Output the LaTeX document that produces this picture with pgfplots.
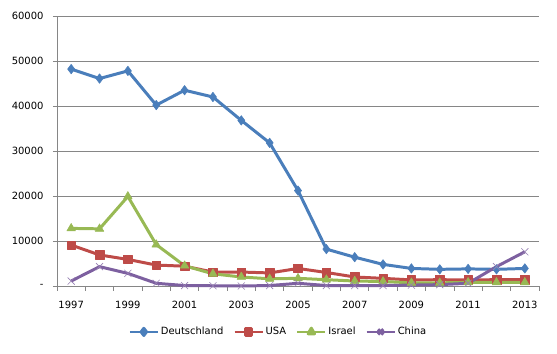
\documentclass[border=0pt]{standalone}
\usepackage{pgfplots}
\pgfplotsset{compat=1.18}
\usepackage{fontspec}
\setmainfont{DejaVu Sans}
\definecolor{cBlue}{HTML}{4A7EBB}
\definecolor{cRed}{HTML}{BE4B48}
\definecolor{cGreen}{HTML}{98B954}
\definecolor{cPurple}{HTML}{7D60A0}
\definecolor{cGrid}{HTML}{868686}
\begin{document}
\begin{tikzpicture}[x=1bp,y=1bp]
\begin{axis}[
  scale only axis,
  width=482bp, height=270bp,
  xmin=-0.5, xmax=16.5,
  ymin=0, ymax=60000,
  axis x line=bottom, axis y line=left,
  axis line style={cGrid, line width=0.8pt, -},
  xtick={0,2,...,16},
  xticklabels={1997,1999,2001,2003,2005,2007,2009,2011,2013},
  major x tick style={draw=none},
  minor xtick={-0.5,0.5,...,16.5},
  minor x tick style={cGrid, line width=0.8pt},
  minor tick length=5bp,
  ytick={0,10000,20000,30000,40000,50000,60000},
  yticklabels={-,10000,20000,30000,40000,50000,60000},
  y tick style={cGrid, line width=0.8pt},
  major tick length=4bp,
  tick align=outside,
  ymajorgrids,
  grid style={cGrid, line width=0.8pt},
  tick label style={font=\fontsize{10}{12}\selectfont},
  yticklabel style={xshift=-6bp},
  xticklabel style={yshift=-8bp},
  scaled y ticks=false,
  /pgf/number format/assume math mode=true,
  clip=false,
  legend columns=4,
  legend style={at={(0.4595,-0.17)}, anchor=center, draw=none, fill=none,
    font=\fontsize{10}{12}\selectfont,
    /tikz/every even column/.append style={column sep=8bp}},
  legend image code/.code={
    \draw[#1, mark=none, line width=2.2pt] (0bp,0bp) -- (28bp,0bp);
    \draw[#1, only marks, mark options={scale=0.75}] plot coordinates {(14bp,0bp)};
  },
  every axis plot/.append style={line width=3pt, line join=round},
]
\addplot[cBlue, mark=diamond*, mark size=4.8pt, mark options={line width=0.5pt}] coordinates {
(0,48200)(1,46100)(2,47800)(3,40200)(4,43500)(5,42000)(6,36800)(7,31800)(8,21200)(9,8200)(10,6400)(11,4800)(12,3900)(13,3700)(14,3800)(15,3700)(16,3900)};
\addlegendentry{Deutschland}
\addplot[cRed, mark=square*, mark size=4.3pt, mark options={line width=0.5pt}] coordinates {
(0,9100)(1,6900)(2,5900)(3,4650)(4,4400)(5,3100)(6,3100)(7,2900)(8,3900)(9,3000)(10,2000)(11,1700)(12,1350)(13,1400)(14,1350)(15,1400)(16,1400)};
\addlegendentry{USA}
\addplot[cGreen, mark=triangle*, mark size=5pt, mark options={line width=0.5pt}] coordinates {
(0,12800)(1,12700)(2,19900)(3,9200)(4,4500)(5,2700)(6,2000)(7,1600)(8,1700)(9,1400)(10,1100)(11,1000)(12,700)(13,700)(14,800)(15,800)(16,800)};
\addlegendentry{Israel}
\addplot[cPurple, mark=x, mark size=5pt, mark options={line width=0.6pt, color=cPurple!80!white}] coordinates {
(0,1100)(1,4300)(2,2800)(3,600)(4,100)(5,50)(6,0)(7,100)(8,600)(9,100)(10,100)(11,100)(12,200)(13,300)(14,600)(15,4300)(16,7600)};
\addlegendentry{China}
\end{axis}
\path[use as bounding box] (current axis.south west)+(-57bp,-68bp) rectangle ([shift={(18bp,16bp)}]current axis.north east);
\end{tikzpicture}
\end{document}
